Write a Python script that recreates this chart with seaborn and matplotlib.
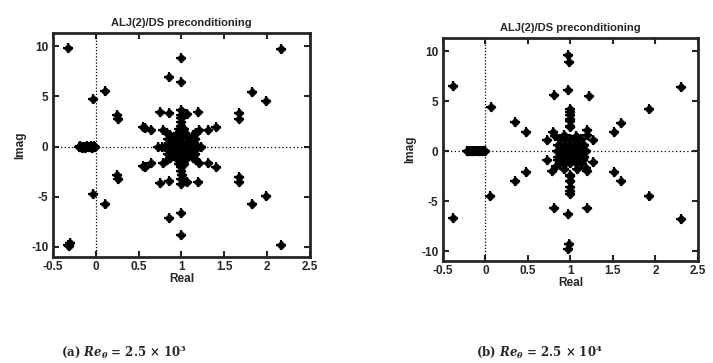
import numpy as np
import pandas as pd
import matplotlib
matplotlib.use("Agg")
import matplotlib.pyplot as plt
import seaborn as sns

# ---------------- data: panel (a) Re = 2.5e3 ----------------
a_out_real = [-0.32, 0.99, 0.85, 1.00, 0.11, -0.03, 0.25, 0.26, 0.75, 0.85, 0.99, 1.06, 1.19,
              0.55, 0.57, 0.64, 1.31, 1.40, 1.67, 1.67, 1.82, 1.98, 2.16,
              -0.32, -0.30, -0.31, 0.99, 0.85, 1.00, 0.11, -0.03, 0.25, 0.26, 0.75, 0.85, 0.99,
              1.06, 1.19, 0.55, 0.57, 0.64, 1.31, 1.40, 1.67, 1.67, 1.82, 1.98, 2.16]
a_out_imag = [9.8, 8.8, 6.9, 6.4, 5.5, 4.7, 3.1, 2.7, 3.4, 3.3, 3.6, 3.2, 3.4,
              1.9, 1.8, 1.6, 1.6, 1.9, 3.3, 2.7, 5.4, 4.5, 9.7,
              -9.8, -9.6, -9.9, -8.8, -7.1, -6.6, -5.7, -4.7, -2.8, -3.2, -3.6, -3.4, -3.7,
              -3.5, -3.5, -1.9, -2.0, -1.6, -1.6, -2.0, -3.0, -3.5, -5.7, -4.9, -9.8]
a_left_real = [-0.19, -0.17, -0.15, -0.13, -0.11, -0.09, -0.07, -0.05, -0.03, -0.01, -0.18, -0.12, -0.06,
               -0.16, -0.10, -0.04, -0.02]
a_left_imag = [0.0, 0.0, 0.0, 0.0, 0.0, 0.0, 0.0, 0.0, 0.0, 0.0, 0.1, -0.1, 0.1,
               -0.1, 0.1, -0.1, 0.1]
a_star_real = [0.73, 0.77, 0.81, 0.85, 0.89, 0.93, 0.97, 1.00, 1.03, 1.07, 1.11, 1.15, 1.19, 1.23,
               1.00, 1.00, 1.00, 1.00, 1.00, 1.00, 1.00, 1.00, 1.00, 1.00, 1.00, 1.00, 0.99, 1.01, 1.00, 1.00,
               0.95, 1.05, 0.95, 1.05, 0.91, 1.09, 0.91, 1.09, 0.87, 1.13, 0.87, 1.13,
               0.83, 1.17, 0.83, 1.17, 0.79, 1.21, 0.79, 1.21,
               0.92, 1.08, 0.92, 1.08, 0.90, 1.10, 0.90, 1.10, 0.94, 1.06, 0.94, 1.06,
               0.86, 1.14, 0.86, 1.14, 0.96, 1.04, 0.96, 1.04, 0.84, 1.16, 0.84, 1.16,
               0.88, 1.12, 0.88, 1.12, 0.97, 1.03, 0.97, 1.03]
a_star_imag = [0.0, 0.0, 0.0, 0.0, 0.0, 0.0, 0.0, 0.0, 0.0, 0.0, 0.0, 0.0, 0.0, 0.0,
               0.4, -0.4, 0.8, -0.8, 1.2, -1.2, 1.6, -1.6, 2.0, -2.0, 2.4, -2.4, 2.8, -2.8, 3.1, -3.2,
               0.4, 0.4, -0.4, -0.4, 0.8, 0.8, -0.8, -0.8, 1.1, 1.1, -1.1, -1.1,
               1.35, 1.35, -1.35, -1.35, 1.6, 1.6, -1.6, -1.6,
               0.3, 0.3, -0.3, -0.3, 0.6, 0.6, -0.6, -0.6, 1.0, 1.0, -1.0, -1.0,
               0.3, 0.3, -0.3, -0.3, 1.3, 1.3, -1.3, -1.3, 0.7, 0.7, -0.7, -0.7,
               0.6, 0.6, -0.6, -0.6, 1.7, 1.7, -1.7, -1.7]

# ---------------- data: panel (b) Re = 2.5e4 ----------------
b_out_real = [-0.38, -0.38, 0.07, 0.06, 0.35, 0.48, 0.48, 0.35, 0.81, 0.97, 1.22, 0.97, 0.98,
              0.97, 0.98, 0.81, 0.97, 1.20,
              1.00, 1.00, 1.00, 0.99, 1.00, 1.00, 1.00, 0.99, 1.00, 1.00,
              1.51, 1.60, 1.51, 1.60, 1.92, 1.92, 2.30, 2.30]
b_out_imag = [6.5, -6.7, 4.4, -4.5, 2.9, 1.9, -2.1, -2.95, 5.6, 6.1, 5.5, 9.6, 8.9,
              -9.8, -9.3, -5.7, -6.3, -5.7,
              4.2, 3.9, 3.6, 3.2, 2.5, -2.5, -3.0, -3.6, -4.0, -4.3,
              1.9, 2.8, -2.1, -3.0, 4.2, -4.5, 6.4, -6.8]
b_left_real = [-0.22, -0.20, -0.18, -0.16, -0.14, -0.12, -0.10, -0.08, -0.06, -0.04, -0.02, 0.00]
b_left_imag = [0.0, 0.0, 0.0, 0.0, 0.0, 0.0, 0.0, 0.0, 0.0, 0.0, 0.0, 0.0]
b_blob_real = [0.73, 0.73, 0.79, 1.26, 1.26, 1.20, 0.78, 1.20, 1.00, 1.00, 1.00, 1.00,
               0.84, 0.90, 0.96, 1.02, 1.08, 1.14, 1.18,
               0.86, 0.92, 0.98, 1.04, 1.10, 1.16,
               0.86, 0.92, 0.98, 1.04, 1.10, 1.16,
               0.88, 0.94, 1.00, 1.06, 1.12,
               0.88, 0.94, 1.00, 1.06, 1.12, 0.82, 1.19, 0.83, 1.18, 0.92, 1.08, 0.93, 1.07,
               0.89, 0.95, 1.01, 1.07, 1.13, 0.89, 0.95, 1.01, 1.07, 1.13,
               0.85, 0.91, 0.97, 1.03, 1.09, 1.15]
b_blob_imag = [1.1, -0.9, 1.9, 1.1, -1.1, 2.1, -2.0, -2.0, 3.0, 2.4, -2.4, -3.0,
               0.0, 0.0, 0.0, 0.0, 0.0, 0.0, 0.0,
               0.6, 0.6, 0.6, 0.6, 0.6, 0.6,
               -0.6, -0.6, -0.6, -0.6, -0.6, -0.6,
               1.2, 1.2, 1.2, 1.2, 1.2,
               -1.2, -1.2, -1.2, -1.2, -1.2, 1.5, 1.6, -1.5, -1.7, -1.8, -1.8, 1.6, 1.5,
               0.3, 0.3, 0.3, 0.3, 0.3, -0.3, -0.3, -0.3, -0.3, -0.3,
               -0.9, -0.9, -0.9, -0.9, -0.9, -0.9]

xticks = [-0.5, 0, 0.5, 1, 1.5, 2, 2.5]
xtick_labels = ["-0.5", "0", "0.5", "1", "1.5", "2", "2.5"]
yticks = [-10, -5, 0, 5, 10]
ytick_labels = ["-10", "-5", "0", "5", "10"]
title_text = "ALJ(2)/DS preconditioning"
captions = [r"(a) $Re_\theta$ = 2.5 $\times$ 10$^3$", r"(b) $Re_\theta$ = 2.5 $\times$ 10$^4$"]

sns.set_style("ticks")
plt.rcParams["font.family"] = ["Liberation Sans", "DejaVu Sans"]
plt.rcParams["axes.unicode_minus"] = False
plt.rcParams["mathtext.fontset"] = "custom"
plt.rcParams["mathtext.rm"] = "DejaVu Serif:bold"
plt.rcParams["mathtext.it"] = "DejaVu Serif:italic:bold"
plt.rcParams["mathtext.bf"] = "DejaVu Serif:bold"

fig = plt.figure(figsize=(7.13, 3.63), dpi=100)
ax1 = fig.add_axes([0.074, 0.292, 0.361, 0.617])
ax2 = fig.add_axes([0.621, 0.281, 0.358, 0.614])

def make_df(*pairs):
    re, im = [], []
    for r, i in pairs:
        re += list(r)
        im += list(i)
    return pd.DataFrame({"Real": re, "Imag": im})

df_a = make_df((a_out_real, a_out_imag), (a_left_real, a_left_imag), (a_star_real, a_star_imag))
df_b = make_df((b_out_real, b_out_imag), (b_left_real, b_left_imag), (b_blob_real, b_blob_imag))

for ax, df in [(ax1, df_a), (ax2, df_b)]:
    ax.axhline(0, color="black", lw=0.9, ls=(0, (1, 2)), zorder=1)
    ax.axvline(0, color="black", lw=0.9, ls=(0, (1, 1.5)), zorder=1)
    sns.scatterplot(data=df, x="Real", y="Imag", ax=ax, marker="D", s=20,
                    color="black", edgecolor="black", linewidth=0.6, zorder=3)
    sns.scatterplot(data=df, x="Real", y="Imag", ax=ax, marker="+", s=52,
                    color="black", linewidth=1.6, zorder=3)
    ax.set_xlim(-0.5, 2.5)
    ax.set_ylim(-11, 11.3)
    ax.set_xticks(xticks)
    ax.set_xticklabels(xtick_labels, fontsize=8.5, fontweight="bold")
    ax.set_yticks(yticks)
    ax.set_yticklabels(ytick_labels, fontsize=8.5, fontweight="bold")
    ax.tick_params(direction="in", top=True, right=True, length=4, width=1.5, pad=3)
    for sp in ax.spines.values():
        sp.set_visible(True)
        sp.set_linewidth(2)
    ax.set_xlabel("Real", fontsize=8.5, fontweight="bold", labelpad=0)
    ax.set_ylabel("Imag", fontsize=8.5, fontweight="bold", labelpad=4)
    ax.set_title(title_text, fontsize=8, fontweight="bold", pad=5)

fig.text(0.174, 0.03, captions[0], ha="center", va="center", fontsize=8.5,
         family="DejaVu Serif", fontweight="bold")
fig.text(0.757, 0.03, captions[1], ha="center", va="center", fontsize=8.5,
         family="DejaVu Serif", fontweight="bold")

fig.savefig("out.png", dpi=100)
